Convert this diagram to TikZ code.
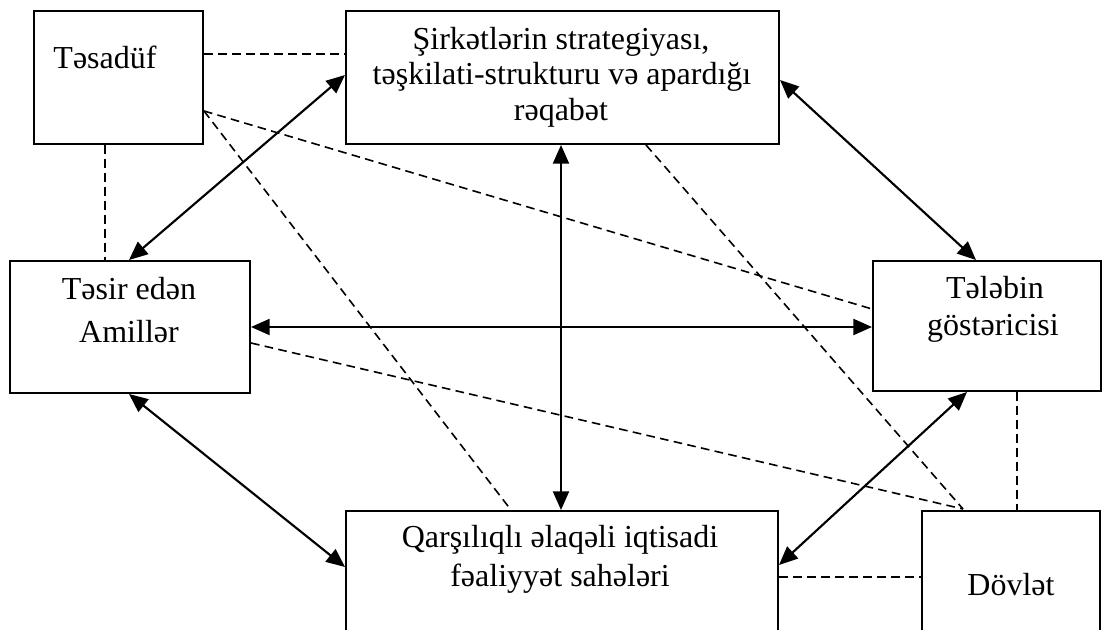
\documentclass[tikz,border=0pt]{standalone}
\usepackage{fontspec}
\setmainfont{Liberation Serif}
\usetikzlibrary{arrows.meta,calc}
\begin{document}
\begin{tikzpicture}[x=0.75pt,y=-0.75pt,
  box/.style={draw,line width=1.5pt,anchor=north west,inner sep=0pt},
  lbl/.style={anchor=base,inner sep=0pt,font=\fontsize{24}{26}\selectfont},
  arr/.style={line width=1.6pt,{Triangle[length=14pt,width=12pt]}-{Triangle[length=14pt,width=12pt]}},
  dsh/.style={line width=1.2pt,dash pattern=on 6.5pt off 4pt}]
\useasboundingbox (0,0) rectangle (1107,630);
\clip (0,0) rectangle (1107,630);
% boxes
\node[box,minimum width=126.75pt,minimum height=99.75pt] (tes) at (33,10) {};
\node[box,minimum width=324.75pt,minimum height=99.75pt] (sir) at (345,10) {};
\node[box,minimum width=180pt,minimum height=99pt] (tsr) at (9,260) {};
\node[box,minimum width=171pt,minimum height=97.5pt] (tel) at (872,260) {};
\node[box,minimum width=324pt,minimum height=112.5pt] (qar) at (345,510) {};
\node[box,minimum width=133.5pt,minimum height=112.5pt] (dov) at (921,510) {};
% texts
\node[lbl] (tesT) at (105,69) {Təsadüf};
\node[lbl] (sir1) at (561,50) {Şirkətlərin strategiyası,};
\node[lbl] (sir2) at (562,85) {təşkilati-strukturu və apardığı};
\node[lbl] (sir3) at (561,121) {rəqabət};
\node[lbl] (tsr1) at (129,300) {Təsir edən};
\node[lbl] (tsr2) at (129,343) {Amillər};
\node[lbl] (tel1) at (995,299) {Tələbin};
\node[lbl] (tel2) at (993,336) {göstəricisi};
\node[lbl] (qar1) at (560,548) {Qarşılıqlı əlaqəli iqtisadi};
\node[lbl] (qar2) at (560,587) {fəaliyyət sahələri};
\node[lbl] (dov1) at (1011,595) {Dövlət};
% dashed links
\draw[dsh] ($(tes.north east)+(0,44)$) -- ($(sir.north west)+(0,44)$);
\draw[dsh] ($(tes.south west)+(72,0)$) -- ($(tsr.north west)+(96,0)$);
\draw[dsh] ($(tes.north east)+(0,101)$) -- ($(tel.north west)+(0,49)$);
\draw[dsh] ($(tes.north east)+(0,101)$) -- ($(qar.north west)+(166,0)$);
\draw[dsh] ($(sir.south west)+(301,0)$) -- ($(dov.north west)+(42,-1)$);
\draw[dsh] ($(tsr.north east)+(0,83)$) -- ($(dov.north west)+(42,-1)$);
\draw[dsh] ($(tel.south west)+(145,0)$) -- ($(dov.north west)+(96,0)$);
\draw[dsh] ($(qar.north east)+(0,67)$) -- ($(dov.north west)+(0,67)$);
% solid double arrows
\draw[arr] ($(sir.north west)+(0,65)$) -- ($(tsr.north west)+(120,0)$);
\draw[arr] ($(sir.north east)+(0,70)$) -- ($(tel.north west)+(104,0)$);
\draw[arr] ($(sir.south west)+(216,0)$) -- ($(qar.north west)+(216,0)$);
\draw[arr] ($(tsr.north east)+(0,67)$) -- ($(tel.north west)+(0,67)$);
\draw[arr] ($(tsr.south west)+(120,0)$) -- ($(qar.north west)+(0,57)$);
\draw[arr] ($(tel.south west)+(95,0)$) -- ($(qar.north east)+(0,55)$);
\end{tikzpicture}
\end{document}
